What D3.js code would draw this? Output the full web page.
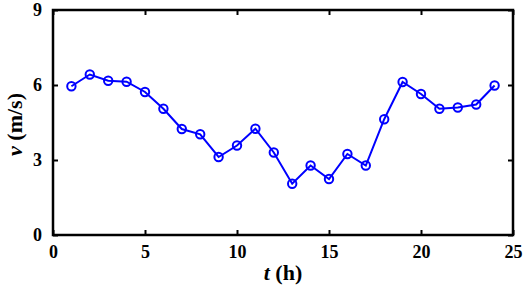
<!DOCTYPE html>
<html>
<head>
<meta charset="utf-8">
<script src="https://cdn.jsdelivr.net/npm/d3@7"></script>
<style>
  body { margin: 0; background: #fff; }
  svg text { font-family: "Liberation Serif", "Times New Roman", serif; font-weight: bold; }
</style>
</head>
<body>
<svg id="chart" width="526" height="286"></svg>
<script>
// hourly wind speed
const hours = d3.range(1, 25);
const speeds = [5.95, 6.42, 6.17, 6.13, 5.72, 5.05, 4.24, 4.03, 3.12, 3.58, 4.25, 3.3,
                2.05, 2.78, 2.24, 3.24, 2.78, 4.63, 6.12, 5.64, 5.05, 5.1, 5.22, 5.98];
const xTicks = [0, 5, 10, 15, 20, 25];
const yTicks = [0, 3, 6, 9];

const margin = { top: 10, right: 13, bottom: 51, left: 53 };
const width = 526 - margin.left - margin.right;
const height = 286 - margin.top - margin.bottom;

const svg = d3.select("#chart")
    .append("g")
    .attr("transform", `translate(${margin.left},${margin.top})`);

const x = d3.scaleLinear().domain([0, 25]).range([0, width]);
const y = d3.scaleLinear().domain([0, 9]).range([height, 0]);

// inward ticks on all four sides, like a matlab box
const styleAxis = g => {
    g.select(".domain").remove();
    g.selectAll("line").attr("stroke", "#000").attr("stroke-width", 2);
};

svg.append("g")
    .attr("transform", `translate(0,${height})`)
    .call(d3.axisBottom(x).tickValues(xTicks).tickSize(-5).tickPadding(10))
    .call(styleAxis)
    .call(g => g.selectAll("text").attr("font-size", 18).attr("fill", "#000"));

svg.append("g")
    .call(d3.axisTop(x).tickValues(xTicks).tickSize(-5).tickFormat(""))
    .call(styleAxis);

svg.append("g")
    .call(d3.axisLeft(y).tickValues(yTicks).tickSize(-5).tickPadding(11))
    .call(styleAxis)
    .call(g => g.selectAll("text").attr("font-size", 18).attr("fill", "#000"));

svg.append("g")
    .attr("transform", `translate(${width},0)`)
    .call(d3.axisRight(y).tickValues(yTicks).tickSize(-5).tickFormat(""))
    .call(styleAxis);

svg.append("rect")
    .attr("width", width)
    .attr("height", height)
    .attr("fill", "none")
    .attr("stroke", "#000")
    .attr("stroke-width", 2.5);

const data = hours.map((h, i) => ({ h, v: speeds[i] }));

svg.append("path")
    .datum(data)
    .attr("fill", "none")
    .attr("stroke", "#0000ff")
    .attr("stroke-width", 2)
    .attr("d", d3.line().x(d => x(d.h)).y(d => y(d.v)));

svg.selectAll(".pt")
    .data(data)
    .enter()
    .append("circle")
    .attr("class", "pt")
    .attr("cx", d => x(d.h))
    .attr("cy", d => y(d.v))
    .attr("r", 4.2)
    .attr("fill", "none")
    .attr("stroke", "#0000ff")
    .attr("stroke-width", 2);

// axis titles
const xt = svg.append("text")
    .attr("x", width / 2)
    .attr("y", height + 45)
    .attr("text-anchor", "middle")
    .attr("font-size", 22);
xt.append("tspan").attr("font-style", "italic").text("t");
xt.append("tspan").text(" (h)");

const yt = svg.append("text")
    .attr("transform", `translate(-31,${height / 2 + 2}) rotate(-90)`)
    .attr("text-anchor", "middle")
    .attr("font-size", 22);
yt.append("tspan").attr("font-style", "italic").text("v");
yt.append("tspan").text(" (m/s)");
</script>
</body>
</html>
